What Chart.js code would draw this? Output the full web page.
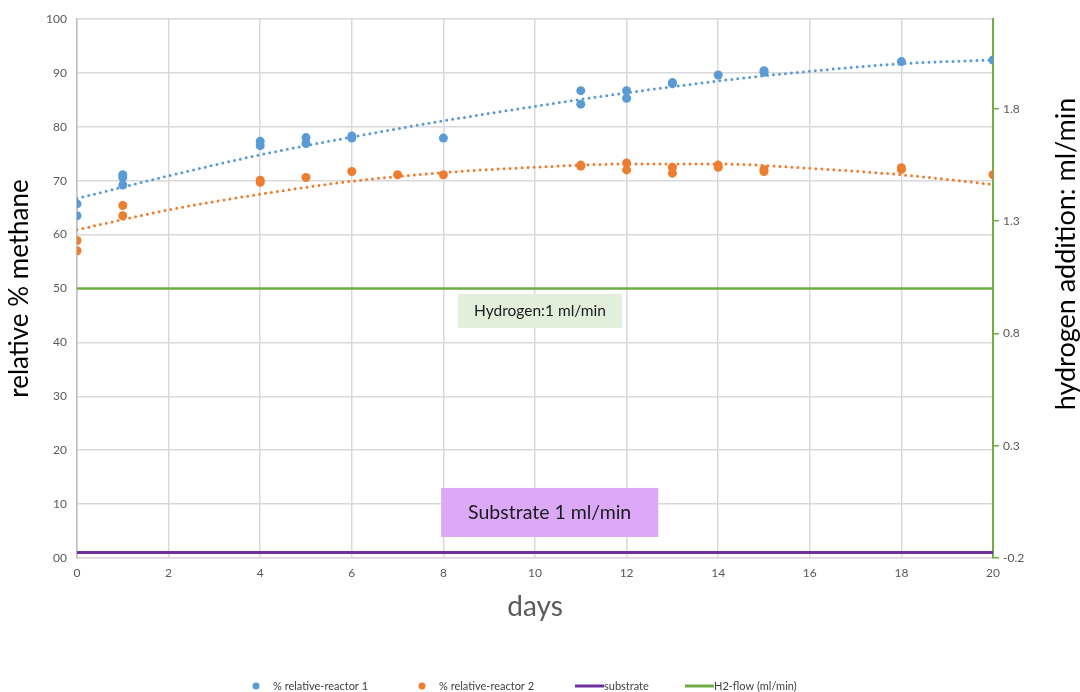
<!DOCTYPE html>
<html>
<head>
<meta charset="utf-8">
<script src="https://cdn.jsdelivr.net/npm/chart.js@4.4.1/dist/chart.umd.min.js"></script>
<style>
  body { margin: 0; background: #fff; }
  canvas { display: block; }
</style>
</head>
<body>
<canvas id="methaneChart" width="1080" height="692"></canvas>
<script>
// measured values, reactor 1
const reactor1Days = [0, 0, 1, 1, 1, 4, 4, 5, 5, 6, 6, 8, 11, 11, 12, 12, 13, 13, 14, 15, 15, 18, 20];
const reactor1Values = [65.7, 63.5, 71.1, 70.6, 69.2, 77.3, 76.5, 78.0, 76.9, 78.3, 77.9, 77.9, 86.7, 84.2, 86.7, 85.3, 88.2, 88.0, 89.6, 90.4, 90.1, 92.1, 92.4];

// measured values, reactor 2
const reactor2Days = [0, 0, 1, 1, 4, 4, 5, 6, 7, 8, 11, 11, 12, 12, 13, 13, 14, 14, 15, 15, 18, 18, 20];
const reactor2Values = [58.9, 57.0, 65.4, 63.5, 70.1, 69.7, 70.6, 71.7, 71.1, 71.1, 72.9, 72.7, 73.3, 72.0, 72.5, 71.4, 72.9, 72.5, 72.1, 71.7, 72.4, 72.1, 71.1];

// trendlines
const trendDays = [0, 2, 4, 6, 8, 10, 12, 14, 16, 18, 20];
const trend1Values = [66.7, 70.9, 74.8, 78.1, 81.1, 83.8, 86.3, 88.5, 90.3, 91.7, 92.4];
const trend2Values = [60.9, 64.6, 67.5, 69.9, 71.5, 72.5, 73.1, 73.1, 72.3, 71.1, 69.3];

// flows
const substrateDays = [0, 20];
const substrateValues = [1, 1];
const h2Days = [0, 20];
const h2Flow = [1, 1];

// ticks
const leftTickLabels = ['00', '10', '20', '30', '40', '50', '60', '70', '80', '90', '100'];
const rightTicks = [-0.2, 0.3, 0.8, 1.3, 1.8];

const BLUE = '#5B9BD5';
const ORANGE = '#ED7D31';
const PURPLE = '#7030A0';
const GREEN = '#70AD47';
const GRID = '#d9d9d9';
const TICK = '#595959';
const FONT = 'Lato, "Open Sans", sans-serif';

function pairs(xs, ys) {
    return xs.map((x, i) => ({ x: x, y: ys[i] }));
}

// white background
const bgPlugin = {
    id: 'bg',
    beforeDraw(chart) {
        const c = chart.ctx;
        c.save();
        c.fillStyle = '#fff';
        c.fillRect(0, 0, chart.width, chart.height);
        c.restore();
    }
};

// the two text boxes on the plot, plus the right axis title (reads bottom to top)
const notesPlugin = {
    id: 'notes',
    afterDatasetsDraw(chart) {
        const c = chart.ctx;
        const x = chart.scales.x, y = chart.scales.y;
        const boxes = [
            { x0: 8.32, x1: 11.9, y0: 49.0, y1: 42.7, fill: '#E2EFDA', text: 'Hydrogen:1 ml/min', size: 15.5 },
            { x0: 7.95, x1: 12.69, y0: 13.0, y1: 3.9, fill: '#DBA9F7', text: 'Substrate 1 ml/min', size: 19.5 }
        ];
        c.save();
        boxes.forEach(b => {
            const l = x.getPixelForValue(b.x0), r = x.getPixelForValue(b.x1);
            const t = y.getPixelForValue(b.y0), btm = y.getPixelForValue(b.y1);
            c.fillStyle = b.fill;
            c.fillRect(l, t, r - l, btm - t);
            c.fillStyle = '#1a1a1a';
            c.font = b.size + 'px ' + FONT;
            c.textAlign = 'center';
            c.textBaseline = 'middle';
            c.fillText(b.text, (l + r) / 2, (t + btm) / 2);
        });
        c.translate(1066, 254);
        c.rotate(-Math.PI / 2);
        c.fillStyle = '#000';
        c.font = '27px ' + FONT;
        c.fillText('hydrogen addition: ml/min', 0, 0);
        c.restore();
    }
};

// legend along the bottom
const legendX = [252, 418, 575, 685];
const legendPlugin = {
    id: 'bottomLegend',
    afterDraw(chart) {
        const c = chart.ctx;
        const items = chart.data.datasets.filter(d => d.inLegend);
        c.save();
        c.font = '11px ' + FONT;
        c.textBaseline = 'middle';
        const py = 686;
        items.forEach((d, i) => {
            const px = legendX[i];
            c.fillStyle = '#404040';
            if (d.showLine === false) {
                c.fillStyle = d.backgroundColor;
                c.beginPath();
                c.arc(px + 4, py, 3.5, 0, Math.PI * 2);
                c.fill();
                c.fillStyle = '#404040';
                c.fillText(d.label, px + 21, py);
            } else {
                c.strokeStyle = d.borderColor;
                c.lineWidth = 3;
                c.beginPath();
                c.moveTo(px, py);
                c.lineTo(px + 29, py);
                c.stroke();
                c.fillText(d.label, px + 29, py);
            }
        });
        c.restore();
    }
};

const ctx = document.getElementById('methaneChart').getContext('2d');
new Chart(ctx, {
    type: 'scatter',
    data: {
        datasets: [
            {
                label: '% relative-reactor 1',
                data: pairs(reactor1Days, reactor1Values),
                showLine: false,
                backgroundColor: BLUE,
                borderColor: BLUE,
                pointRadius: 4.5,
                pointBorderWidth: 0,
                inLegend: true,
                order: 0
            },
            {
                label: '% relative-reactor 2',
                data: pairs(reactor2Days, reactor2Values),
                showLine: false,
                backgroundColor: ORANGE,
                borderColor: ORANGE,
                pointRadius: 4.5,
                pointBorderWidth: 0,
                inLegend: true,
                order: 0
            },
            {
                label: 'trend 1',
                data: pairs(trendDays, trend1Values),
                showLine: true,
                borderColor: BLUE,
                borderWidth: 3,
                borderDash: [0, 6],
                borderCapStyle: 'round',
                pointRadius: 0,
                cubicInterpolationMode: 'monotone',
                order: 1
            },
            {
                label: 'trend 2',
                data: pairs(trendDays, trend2Values),
                showLine: true,
                borderColor: ORANGE,
                borderWidth: 3,
                borderDash: [0, 6],
                borderCapStyle: 'round',
                pointRadius: 0,
                cubicInterpolationMode: 'monotone',
                order: 1
            },
            {
                label: 'substrate',
                data: pairs(substrateDays, substrateValues),
                showLine: true,
                borderColor: PURPLE,
                borderWidth: 3,
                pointRadius: 0,
                inLegend: true,
                order: 2
            },
            {
                label: 'H2-flow (ml/min)',
                data: pairs(h2Days, h2Flow),
                showLine: true,
                yAxisID: 'y2',
                borderColor: GREEN,
                borderWidth: 2.5,
                pointRadius: 0,
                inLegend: true,
                order: 2
            }
        ]
    },
    options: {
        responsive: false,
        animation: false,
        layout: { padding: { top: 19, bottom: 64, left: 0, right: 0 } },
        plugins: {
            legend: { display: false },
            tooltip: { enabled: false }
        },
        scales: {
            x: {
                type: 'linear',
                min: 0,
                max: 20,
                ticks: { stepSize: 2, color: TICK, font: { size: 12, family: FONT }, padding: 8 },
                grid: { color: GRID, lineWidth: 1.5, drawTicks: false },
                border: { color: GRID, width: 1.5 },
                title: { display: true, text: 'days', color: TICK, font: { size: 28, family: FONT } },
                afterFit: s => { s.height = 70; }
            },
            y: {
                min: 0,
                max: 100,
                ticks: {
                    stepSize: 10,
                    color: TICK,
                    font: { size: 12, family: FONT },
                    padding: 10,
                    callback: (v, i) => leftTickLabels[i]
                },
                grid: { color: GRID, lineWidth: 1.5, drawTicks: false },
                border: { color: '#bfbfbf', width: 1.5 },
                title: { display: true, text: 'relative % methane', color: '#000', font: { size: 26, family: FONT } },
                afterFit: s => { s.width = 77; }
            },
            y2: {
                position: 'right',
                min: -0.2,
                max: 2.2,
                afterBuildTicks: axis => { axis.ticks = rightTicks.map(v => ({ value: v })); },
                ticks: {
                    color: TICK,
                    font: { size: 12, family: FONT },
                    padding: 4,
                    callback: v => v.toFixed(1)
                },
                grid: { drawOnChartArea: false, color: GREEN, lineWidth: 1.5, tickLength: 6 },
                border: { color: GREEN, width: 2 },
                afterFit: s => { s.width = 87; }
            }
        }
    },
    plugins: [bgPlugin, notesPlugin, legendPlugin]
});
</script>
</body>
</html>
